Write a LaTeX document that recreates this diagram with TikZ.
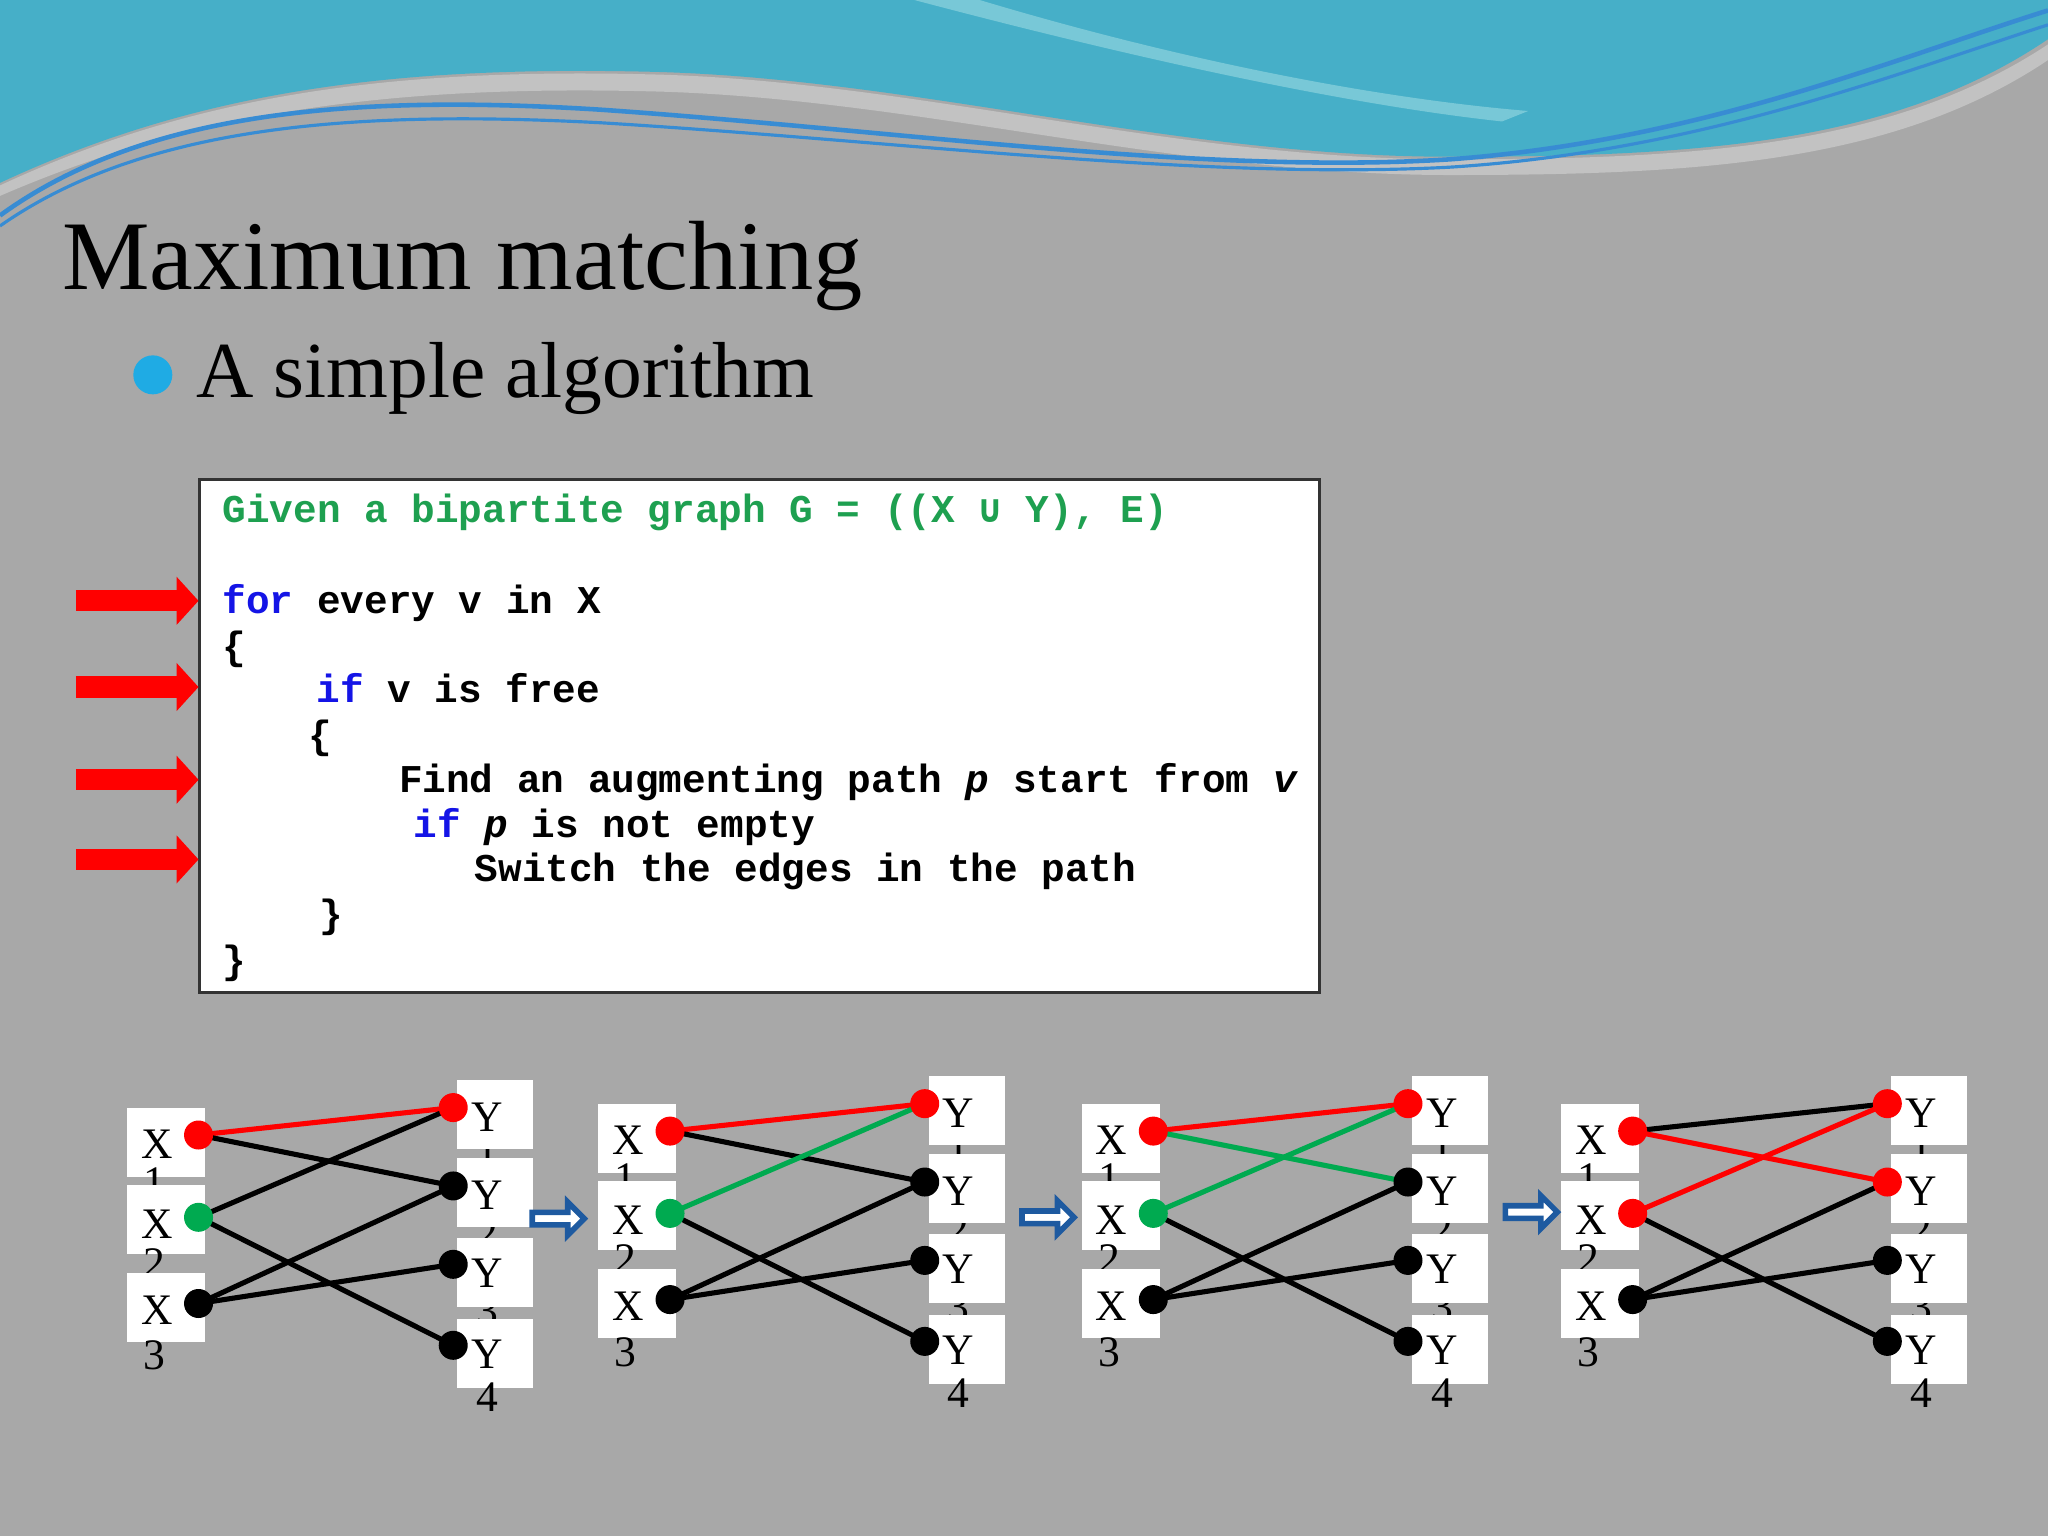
\documentclass[tikz,border=0pt]{standalone}
\usepackage{fontspec}
\setmainfont{Liberation Serif}
\newfontfamily\codefont{Liberation Mono}
\newfontfamily\symfont{DejaVu Sans Mono}
\usetikzlibrary{arrows.meta,shapes.arrows}
\definecolor{bgc}{rgb}{0.66,0.66,0.66}
\definecolor{teal1}{RGB}{70,175,200}
\definecolor{teal2}{RGB}{120,200,215}
\definecolor{kwblue}{RGB}{20,20,230}
\definecolor{cgreen}{RGB}{30,160,80}
\definecolor{ngreen}{RGB}{0,170,80}
\definecolor{arrblue}{RGB}{30,90,160}
\tikzset{
  vtx/.style={circle,inner sep=0pt,minimum size=0.29cm,fill=black},
  xbox/.style={fill=white,draw=none,minimum width=0.78cm,minimum height=0.69cm},
  ybox/.style={fill=white,draw=none,minimum width=0.76cm,minimum height=0.69cm},
  lbl/.style={font=\fontsize{12.4}{13}\selectfont,inner sep=0pt},
  ed/.style={line width=1.45pt},
  nextarrow/.style={single arrow,draw=arrblue,line width=1.6pt,fill=white,minimum height=0.52cm,minimum width=0.33cm,single arrow head extend=0.08cm,inner sep=0.6pt},
  codeline/.style={anchor=base west,inner sep=0pt,font=\codefont\bfseries\fontsize{11.2}{13}\selectfont}
}
\newcommand\bigraph[2]{%
\begin{scope}[shift={#1},name prefix=#2-]
 \node[lbl] (ny1) at (373,884) {1};
 \node[lbl] (ny2) at (373,944) {2};
 \node[lbl] (ny3) at (373,1004) {3};
 \node[xbox] (bx1) at (127,875) {};
 \node[lbl] (tx1) at (120,876) {X};
 \node[lbl] (nx1) at (118,905) {1};
 \node[xbox] (bx2) at (127,934) {};
 \node[lbl] (tx2) at (120,937) {X};
 \node[lbl] (nx2) at (118,967) {2};
 \node[xbox] (bx3) at (127,1001) {};
 \node[lbl] (tx3) at (120,1003) {X};
 \node[lbl] (nx3) at (118,1038) {3};
 \node[ybox] (by1) at (379,853) {};
 \node[lbl] (ty1) at (373,855) {Y};
 \node[ybox] (by2) at (379,913) {};
 \node[lbl] (ty2) at (373,915) {Y};
 \node[ybox] (by3) at (379,974) {};
 \node[lbl] (ty3) at (373,975) {Y};
 \node[ybox] (by4) at (379,1036) {};
 \node[lbl] (ty4) at (373,1037) {Y};
 \node[lbl] (ny4) at (373,1070) {4};
 \coordinate (x1) at (152,869);
 \coordinate (x2) at (152,932);
 \coordinate (x3) at (152,998);
 \coordinate (y1) at (347,848);
 \coordinate (y2) at (347,908);
 \coordinate (y3) at (347,968);
 \coordinate (y4) at (347,1030);
\end{scope}}
\begin{document}
\begin{tikzpicture}[x=0.013061cm,y=-0.013061cm]
\useasboundingbox (0,0) rectangle (1568,1176);
\fill[bgc] (0,0) rectangle (1568,1176);
% header waves
\fill[teal1] (0,0) -- (1568,0) -- (1568,30) .. controls (1450,110) and (1300,120) .. (1110,120)
  .. controls (900,120) and (700,60) .. (500,55) .. controls (300,50) and (150,70) .. (0,140) -- cycle;
\fill[teal2] (700,0) -- (750,0) .. controls (900,45) and (1050,75) .. (1170,85) -- (1150,93) .. controls (1030,80) and (870,45) .. cycle;
\fill[bgc!70!white] (0,142) .. controls (150,72) and (300,52) .. (500,57) .. controls (700,62) and (900,122) .. (1110,122)
  .. controls (1300,122) and (1450,112) .. (1568,34) -- (1568,46) .. controls (1450,125) and (1300,134) .. (1110,134)
  .. controls (900,134) and (700,75) .. (500,70) .. controls (300,65) and (150,85) .. (0,150) -- cycle;
\draw[teal1!80!blue,line width=1.3pt] (0,165) .. controls (110,85) and (270,72) .. (460,84) .. controls (690,100) and (920,134) .. (1110,122) .. controls (1300,108) and (1450,45) .. (1568,8);
\draw[teal1!80!blue,line width=0.9pt] (0,173) .. controls (110,96) and (270,84) .. (460,94) .. controls (690,108) and (920,138) .. (1110,128) .. controls (1300,116) and (1450,57) .. (1568,19);
% title
\node[anchor=base west,inner sep=0pt,font=\fontsize{28}{31}\selectfont] (title) at (47,222) {Maximum matching};
\node[circle,fill=cyan!75!teal1,minimum size=0.39cm,inner sep=0pt] (bul) at (117,287) {};
\node[anchor=base west,inner sep=0pt,font=\fontsize{22.6}{26}\selectfont] (sub) at (150,304) {A simple algorithm};
% code box
\node[draw=black!80,line width=1pt,fill=white,minimum width=11.2cm,minimum height=5.13cm,inner sep=0pt] (code) at (581.5,563.5) {};
\node[codeline,text=cgreen] (l1) at (170,400) {Given a bipartite graph G = ((X {\symfont\bfseries ∪} Y), E)};
\node[codeline] (l2) at (170,470) {\textcolor{kwblue}{for} every v in X};
\node[codeline] (l3) at (170,505) {\{};
\node[codeline] (l4) at (242,538) {\textcolor{kwblue}{if} v is free};
\node[codeline] (l5) at (236,573) {\{};
\node[codeline] (l6) at (305,607) {Find an augmenting path \textit{p} start from \textit{v}};
\node[codeline] (l7) at (316,641) {\textcolor{kwblue}{if} \textit{p} is not empty};
\node[codeline] (l8) at (363,675) {Switch the edges in the path};
\node[codeline] (l9) at (244,710) {\}};
\node[codeline] (l10) at (170,745) {\}};
% red arrows
\foreach \yy/\nm in {460/ra1,526/ra2,597/ra3,658/ra4}{
  \coordinate (\nm s) at (58,\yy);
  \coordinate (\nm e) at (152,\yy);
  \draw[red,line width=6pt,-{Triangle[length=0.22cm,width=0.47cm]}] (\nm s) -- (\nm e);
}
% graphs
\bigraph{(0,0)}{g1}
\bigraph{(361,-3)}{g2}
\bigraph{(731,-3)}{g3}
\bigraph{(1098,-3)}{g4}
% graph 1
\draw[ed,red] (g1-x1) -- (g1-y1);
\draw[ed] (g1-x1) -- (g1-y2);
\draw[ed] (g1-x2) -- (g1-y1);
\draw[ed] (g1-x2) -- (g1-y4);
\draw[ed] (g1-x3) -- (g1-y2);
\draw[ed] (g1-x3) -- (g1-y3);
\node[vtx,fill=red] at (g1-x1) {}; \node[vtx,fill=ngreen] at (g1-x2) {}; \node[vtx] at (g1-x3) {};
\node[vtx,fill=red] at (g1-y1) {}; \node[vtx] at (g1-y2) {}; \node[vtx] at (g1-y3) {}; \node[vtx] at (g1-y4) {};
% graph 2
\draw[ed,red] (g2-x1) -- (g2-y1);
\draw[ed] (g2-x1) -- (g2-y2);
\draw[ed,ngreen] (g2-x2) -- (g2-y1);
\draw[ed] (g2-x2) -- (g2-y4);
\draw[ed] (g2-x3) -- (g2-y2);
\draw[ed] (g2-x3) -- (g2-y3);
\node[vtx,fill=red] at (g2-x1) {}; \node[vtx,fill=ngreen] at (g2-x2) {}; \node[vtx] at (g2-x3) {};
\node[vtx,fill=red] at (g2-y1) {}; \node[vtx] at (g2-y2) {}; \node[vtx] at (g2-y3) {}; \node[vtx] at (g2-y4) {};
% graph 3
\draw[ed,red] (g3-x1) -- (g3-y1);
\draw[ed,ngreen] (g3-x1) -- (g3-y2);
\draw[ed,ngreen] (g3-x2) -- (g3-y1);
\draw[ed] (g3-x2) -- (g3-y4);
\draw[ed] (g3-x3) -- (g3-y2);
\draw[ed] (g3-x3) -- (g3-y3);
\node[vtx,fill=red] at (g3-x1) {}; \node[vtx,fill=ngreen] at (g3-x2) {}; \node[vtx] at (g3-x3) {};
\node[vtx,fill=red] at (g3-y1) {}; \node[vtx] at (g3-y2) {}; \node[vtx] at (g3-y3) {}; \node[vtx] at (g3-y4) {};
% graph 4
\draw[ed] (g4-x1) -- (g4-y1);
\draw[ed,red] (g4-x1) -- (g4-y2);
\draw[ed,red] (g4-x2) -- (g4-y1);
\draw[ed] (g4-x2) -- (g4-y4);
\draw[ed] (g4-x3) -- (g4-y2);
\draw[ed] (g4-x3) -- (g4-y3);
\node[vtx,fill=red] at (g4-x1) {}; \node[vtx,fill=red] at (g4-x2) {}; \node[vtx] at (g4-x3) {};
\node[vtx,fill=red] at (g4-y1) {}; \node[vtx,fill=red] at (g4-y2) {}; \node[vtx] at (g4-y3) {}; \node[vtx] at (g4-y4) {};
% transition arrows
\node[nextarrow] (na1) at (425,933) {};
\node[nextarrow] (na2) at (800,932) {};
\node[nextarrow] (na3) at (1170,928) {};
\end{tikzpicture}
\end{document}
